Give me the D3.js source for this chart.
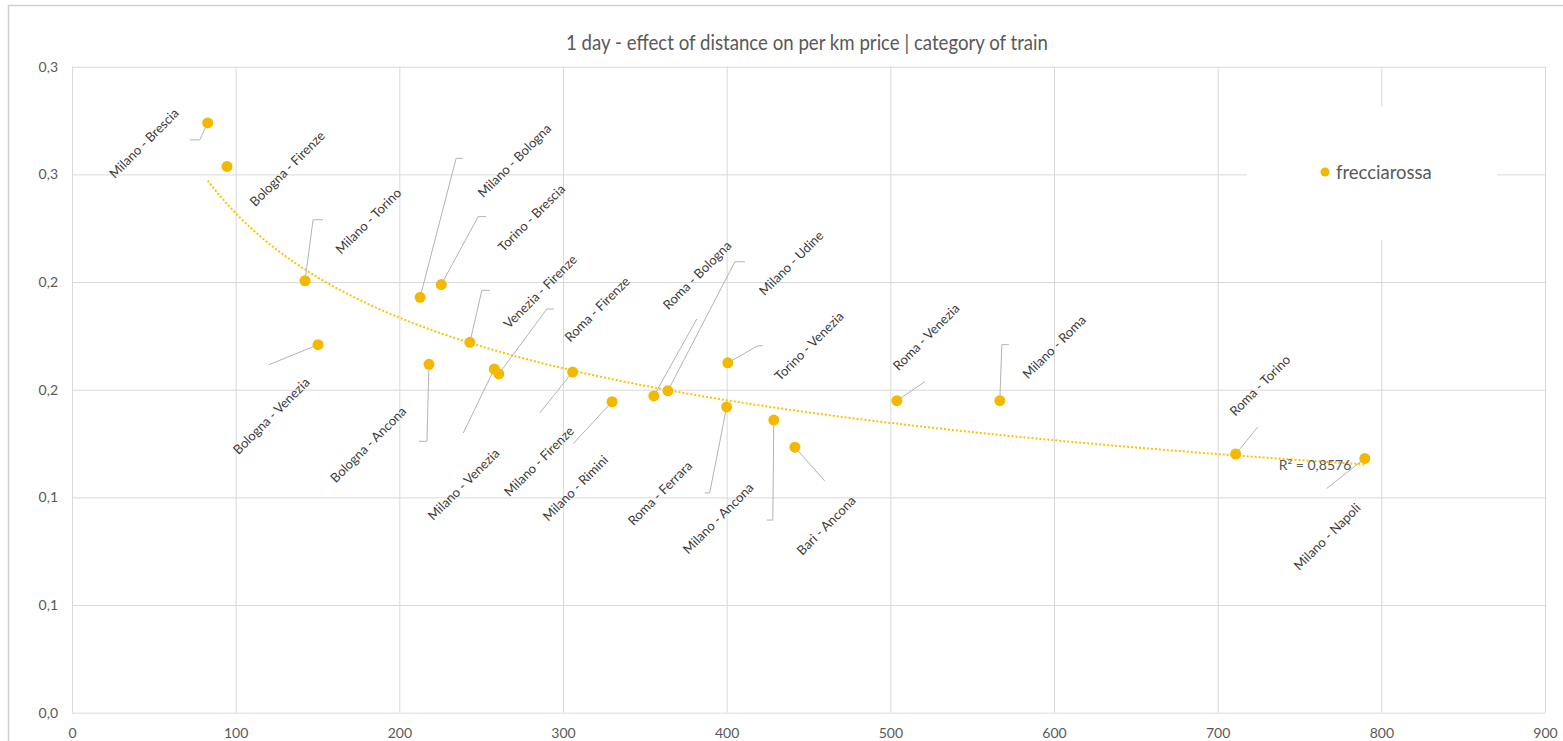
<!DOCTYPE html>
<html>
<head>
<meta charset="utf-8">
<script src="https://cdn.jsdelivr.net/npm/d3@7"></script>
<style>
  html, body { margin: 0; padding: 0; background: #ffffff; }
  svg { display: block; font-family: Lato, "Open Sans", "Noto Sans", sans-serif; }
</style>
</head>
<body>
<svg id="chart" width="1563" height="741"></svg>
<script>
// Routes and their one-day Frecciarossa fares: distance (km) vs price per km (EUR)
const routes = [
  "Milano - Brescia", "Bologna - Firenze", "Milano - Torino", "Bologna - Venezia",
  "Milano - Bologna", "Torino - Brescia", "Venezia - Firenze", "Bologna - Ancona",
  "Milano - Venezia", "Roma - Firenze", "Milano - Firenze", "Milano - Rimini",
  "Roma - Bologna", "Milano - Udine", "Roma - Ferrara", "Torino - Venezia",
  "Milano - Ancona", "Bari - Ancona", "Roma - Venezia", "Milano - Roma",
  "Roma - Torino", "Milano - Napoli"
];
const distanceKm = [
  82.9, 94.7, 142.4, 150.3,
  212.7, 225.6, 243.1, 218.1,
  258.0, 260.8, 305.9, 330.0,
  355.5, 364.1, 400.0, 400.7,
  428.8, 441.7, 504.0, 566.9,
  711.0, 789.9
];
const pricePerKm = [
  0.2739, 0.2537, 0.2006, 0.1709,
  0.1929, 0.1988, 0.1720, 0.1618,
  0.1596, 0.1573, 0.1582, 0.1444,
  0.1471, 0.1495, 0.1420, 0.1625,
  0.1359, 0.1233, 0.1449, 0.1449,
  0.1201, 0.1181
];
const xTicks = [0, 100, 200, 300, 400, 500, 600, 700, 800, 900];
const yTicks = [0, 0.05, 0.10, 0.15, 0.20, 0.25, 0.30];
const yTickLabels = ["0,0", "0,1", "0,1", "0,2", "0,2", "0,3", "0,3"];
const seriesName = "frecciarossa";
const chartTitle = "1 day - effect of distance on per km price | category of train";
const rSquaredText = "R\u00B2 = 0,8576";

// Label placement (pixels, relative to each point): text centre, leader elbow, hook length
const labelLayout = [
  { tx: -64, ty: 20,   ex: -8,  ey: 17,   hook: -10 },
  { tx: 60,  ty: 2,    ex: null },
  { tx: 63,  ty: -60,  ex: 8,   ey: -61,  hook: 10 },
  { tx: -47, ty: 71,   ex: -49, ey: 20,   hook: 0 },
  { tx: 94,  ty: -137, ex: 36,  ey: -139, hook: 7 },
  { tx: 90,  ty: -67,  ex: 37,  ey: -68,  hook: 8 },
  { tx: 70,  ty: -51,  ex: 12,  ey: -52,  hook: 8 },
  { tx: -61, ty: 80,   ex: -2,  ey: 77,   hook: -8 },
  { tx: -31, ty: 115,  ex: -31, ey: 64,   hook: 0 },
  { tx: 98,  ty: -65,  ex: 48,  ey: -65,  hook: 7 },
  { tx: -34, ty: 89,   ex: -33, ey: 41,   hook: 0 },
  { tx: -37, ty: 86,   ex: -39, ey: 42,   hook: 0 },
  { tx: 43,  ty: -121, ex: 43,  ey: -77,  hook: 0 },
  { tx: 123, ty: -128, ex: 67,  ey: -129, hook: 10 },
  { tx: -67, ty: 86,   ex: -17, ey: 86,   hook: -5 },
  { tx: 81,  ty: -17,  ex: 30,  ey: -17,  hook: 5 },
  { tx: -56, ty: 98,   ex: -1,  ey: 100,  hook: -6 },
  { tx: 31,  ty: 78,   ex: 30,  ey: 34,   hook: 0 },
  { tx: 29,  ty: -64,  ex: 28,  ey: -19,  hook: 0 },
  { tx: 54,  ty: -54,  ex: 2,   ey: -56,  hook: 7 },
  { tx: 24,  ty: -69,  ex: 22,  ey: -27,  hook: 0 },
  { tx: -38, ty: 78,   ex: -38, ey: 30,   hook: 0 }
];

const markerColor = "#f5b800";
const gridColor = "#d9d9d9";
const textColor = "#595959";

const svg = d3.select("#chart");

// Chart frame
svg.append("rect")
  .attr("x", 8.5).attr("y", 5.5).attr("width", 1600).attr("height", 800)
  .attr("fill", "#ffffff").attr("stroke", "#cfcfcf").attr("stroke-width", 1.5);

const plot = { left: 72, right: 1545, top: 66.7, bottom: 712.7 };
const x = d3.scaleLinear().domain([0, 900]).range([plot.left, plot.right]);
const y = d3.scaleLinear().domain([0, 0.30]).range([plot.bottom, plot.top]);

// Title
svg.append("text")
  .attr("x", 807).attr("y", 50)
  .attr("text-anchor", "middle")
  .attr("fill", textColor)
  .style("font-size", "20.5px")
  .attr("textLength", 482)
  .attr("lengthAdjust", "spacingAndGlyphs")
  .text(chartTitle);

// Horizontal grid + y labels
const yAxis = svg.append("g")
  .attr("transform", `translate(${plot.left},0)`)
  .call(d3.axisLeft(y)
    .tickValues(yTicks)
    .tickSize(-(plot.right - plot.left))
    .tickPadding(14)
    .tickFormat((d, i) => yTickLabels[i]));
yAxis.select(".domain").remove();
yAxis.selectAll("line").attr("stroke", gridColor);
yAxis.selectAll("text").attr("fill", textColor).style("font-size", "14px")
  .style("font-family", "Lato, 'Open Sans', sans-serif");

// Vertical grid + x labels
const xAxis = svg.append("g")
  .attr("transform", `translate(0,${plot.bottom})`)
  .call(d3.axisBottom(x)
    .tickValues(xTicks)
    .tickSize(-(plot.bottom - plot.top))
    .tickPadding(15)
    .tickFormat(d3.format("d")));
xAxis.select(".domain").remove();
xAxis.selectAll("line").attr("stroke", gridColor);
xAxis.selectAll("text").attr("fill", textColor).style("font-size", "14px")
  .style("font-family", "Lato, 'Open Sans', sans-serif");

// Points
const data = routes.map((name, i) => ({
  name, km: distanceKm[i], price: pricePerKm[i], layout: labelLayout[i]
}));

// Power trendline (least squares on log-log values)
const lx = data.map(d => Math.log(d.km));
const ly = data.map(d => Math.log(d.price));
const mx = d3.mean(lx), my = d3.mean(ly);
const slope = d3.sum(lx, (v, i) => (v - mx) * (ly[i] - my)) / d3.sum(lx, v => (v - mx) ** 2);
const coef = Math.exp(my - slope * mx);
const kmMin = d3.min(distanceKm), kmMax = d3.max(distanceKm);
const trendKm = d3.range(0, 101).map(t => kmMin + (kmMax - kmMin) * t / 100);

svg.append("path")
  .datum(trendKm)
  .attr("fill", "none")
  .attr("stroke", "#ffc000")
  .attr("stroke-width", 2)
  .attr("stroke-dasharray", "2,2")
  .attr("d", d3.line().x(k => x(k)).y(k => y(coef * Math.pow(k, slope))));

// Leader lines
const leaders = svg.append("g")
  .attr("fill", "none").attr("stroke", "#b3b3b3").attr("stroke-width", 1);
data.filter(d => d.layout.ex !== null).forEach(d => {
  const px = x(d.km), py = y(d.price), L = d.layout;
  const pts = [[px, py], [px + L.ex, py + L.ey]];
  if (L.hook) pts.push([px + L.ex + L.hook, py + L.ey]);
  leaders.append("path").attr("d", d3.line()(pts));
});

svg.append("g").selectAll("circle")
  .data(data)
  .join("circle")
  .attr("cx", d => x(d.km))
  .attr("cy", d => y(d.price))
  .attr("r", 5.5)
  .attr("fill", markerColor);

// Rotated data labels
svg.append("g").selectAll("text")
  .data(data)
  .join("text")
  .attr("transform", d => `translate(${x(d.km) + d.layout.tx},${y(d.price) + d.layout.ty}) rotate(-45)`)
  .attr("text-anchor", "middle")
  .attr("dominant-baseline", "central")
  .attr("fill", "#3a3a3a")
  .style("font-size", "13px")
  .text(d => d.name);

// R² annotation
svg.append("text")
  .attr("x", 1315).attr("y", 470)
  .attr("text-anchor", "middle")
  .attr("fill", textColor)
  .style("font-size", "14px")
  .text(rSquaredText);

// Legend
const legend = svg.append("g");
legend.append("rect")
  .attr("x", 1247).attr("y", 107).attr("width", 250).attr("height", 133)
  .attr("fill", "#ffffff");
legend.append("circle")
  .attr("cx", 1325).attr("cy", 172).attr("r", 4.5).attr("fill", markerColor);
legend.append("text")
  .attr("x", 1336).attr("y", 172)
  .attr("dominant-baseline", "central")
  .attr("fill", textColor)
  .style("font-size", "18.5px")
  .text(seriesName);
</script>
</body>
</html>
